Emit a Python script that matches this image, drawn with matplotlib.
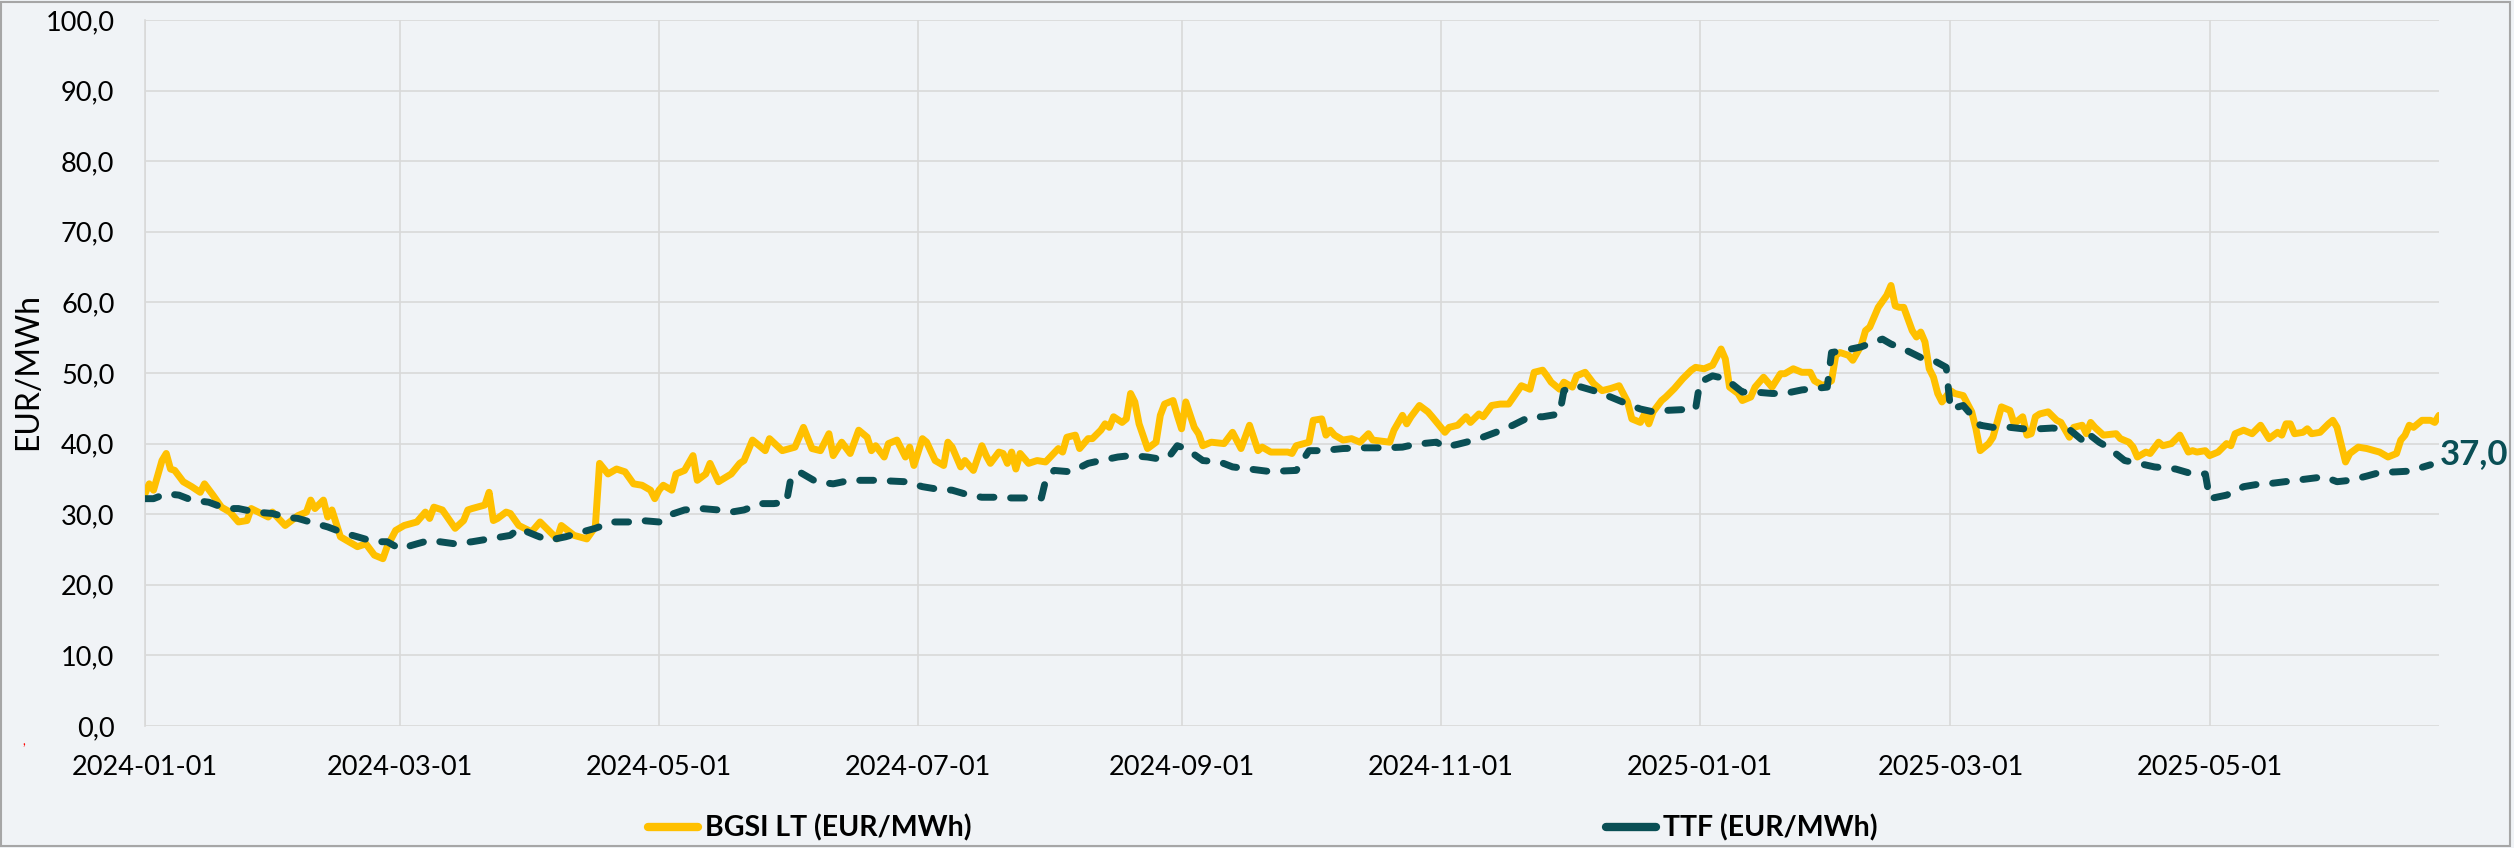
import matplotlib
matplotlib.use("Agg")
import matplotlib.pyplot as plt
from matplotlib.lines import Line2D
from matplotlib.patches import Rectangle
import numpy as np

plt.rcParams['font.family'] = ['Lato', 'DejaVu Sans']

START = np.datetime64('2024-01-01')

# days since 2024-01-01 / price, EUR/MWh
bgsi_day = [0, 1, 2, 4, 5, 6, 7, 9, 11, 13, 14, 16, 18, 20, 22, 24, 25, 29, 30, 33,
            36, 38, 39, 40, 42, 43, 44, 46, 48, 50, 52, 54, 56, 57, 59, 61, 64, 66, 67, 68,
            70, 73, 75, 76, 77, 80, 81, 82, 83, 85, 86, 88, 91, 93, 95, 97, 98, 101, 104, 106,
            107, 109, 111, 113, 115, 117, 119, 120, 121, 122, 124, 125, 127, 129, 130, 132, 133, 135, 138, 140,
            141, 143, 146, 147, 150, 153, 155, 157, 159, 161, 162, 164, 166, 168, 170, 171, 172, 174, 175, 177,
            179, 180, 181, 183, 184, 186, 188, 189, 190, 192, 193, 195, 197, 198, 199, 201, 202, 203, 204, 205,
            206, 208, 210, 212, 215, 216, 217, 219, 220, 222, 223, 225, 226, 227, 228, 230, 231, 232, 233, 234,
            236, 238, 239, 240, 242, 243, 244, 245, 247, 248, 249, 251, 254, 256, 258, 260, 262, 263, 265, 269,
            270, 271, 274, 275, 277, 278, 279, 280, 282, 284, 286, 288, 289, 293, 294, 296, 297, 298, 300, 302,
            303, 306, 307, 309, 311, 312, 314, 315, 317, 319, 321, 324, 326, 327, 329, 330, 331, 333, 334, 336,
            337, 339, 341, 343, 345, 347, 349, 350, 352, 353, 354, 355, 357, 358, 360, 362, 364, 365, 367, 369,
            371, 372, 373, 375, 376, 378, 379, 381, 383, 385, 386, 388, 390, 392, 393, 395, 397, 398, 399, 401,
            402, 404, 405, 406, 408, 410, 411, 412, 413, 414, 416, 417, 418, 419, 420, 421, 422, 423, 425, 426,
            428, 430, 431, 432, 434, 435, 437, 439, 440, 442, 443, 444, 445, 446, 448, 450, 451, 453, 454, 456,
            457, 458, 459, 461, 464, 465, 467, 468, 469, 471, 472, 474, 475, 477, 479, 481, 482, 483, 485, 486,
            488, 490, 491, 492, 494, 496, 498, 500, 502, 503, 504, 505, 506, 508, 509, 510, 512, 514, 515, 516,
            518, 519, 521, 523, 526, 528, 530, 531, 532, 533, 534, 536, 538, 539, 540]
bgsi_val = [32.9, 34.3, 33.4, 37.6, 38.6, 36.4, 36.2, 34.6, 33.9, 33.1, 34.3, 32.7, 31.0, 30.3, 28.9, 29.1, 30.8, 29.6, 30.3, 28.4,
            29.8, 30.3, 32.0, 30.8, 32.0, 29.6, 30.6, 26.8, 26.1, 25.4, 25.8, 24.2, 23.7, 25.4, 27.7, 28.4, 28.9, 30.3, 29.4, 31.0,
            30.6, 28.0, 29.1, 30.6, 30.8, 31.3, 33.1, 29.1, 29.4, 30.3, 30.1, 28.4, 27.5, 28.9, 27.7, 26.5, 28.4, 27.0, 26.5, 28.2,
            37.2, 35.7, 36.4, 36.0, 34.3, 34.1, 33.4, 32.2, 33.4, 34.1, 33.4, 35.7, 36.2, 38.3, 34.8, 35.7, 37.2, 34.6, 35.7, 37.2,
            37.6, 40.5, 39.0, 40.7, 39.0, 39.5, 42.3, 39.3, 39.0, 41.4, 38.3, 40.2, 38.6, 41.9, 40.9, 39.0, 39.7, 38.1, 40.0, 40.5,
            38.1, 39.5, 36.9, 40.7, 40.2, 37.6, 36.9, 40.2, 39.5, 36.7, 37.6, 36.2, 39.7, 38.3, 37.2, 38.8, 38.6, 37.2, 38.8, 36.4,
            38.6, 37.2, 37.6, 37.4, 39.3, 38.8, 40.9, 41.2, 39.3, 40.7, 40.7, 41.9, 42.8, 42.3, 43.8, 43.0, 43.5, 47.1, 45.9, 42.8,
            39.3, 40.2, 44.0, 45.6, 46.1, 44.0, 42.1, 45.9, 42.3, 41.4, 39.7, 40.2, 40.0, 41.6, 39.3, 42.6, 39.0, 39.5, 38.8, 38.8,
            38.6, 39.7, 40.2, 43.3, 43.5, 41.2, 41.9, 41.2, 40.5, 40.7, 40.2, 41.4, 40.5, 40.2, 41.9, 44.0, 42.8, 43.8, 45.4, 44.5,
            43.8, 41.6, 42.3, 42.6, 43.8, 43.0, 44.2, 43.8, 45.4, 45.6, 45.6, 48.2, 47.7, 50.1, 50.4, 49.6, 48.7, 47.7, 48.7, 48.0,
            49.6, 50.1, 48.5, 47.5, 47.8, 48.2, 45.9, 43.5, 43.0, 44.2, 42.8, 44.5, 46.1, 46.6, 47.8, 49.2, 50.4, 50.8, 50.6, 51.1,
            53.4, 52.0, 48.0, 47.1, 46.1, 46.6, 48.0, 49.4, 48.0, 49.9, 49.9, 50.6, 50.1, 50.1, 48.9, 48.2, 48.9, 52.5, 52.9, 52.5,
            51.8, 53.9, 56.0, 56.5, 59.3, 61.0, 62.4, 59.5, 59.3, 59.3, 56.0, 55.1, 55.8, 54.4, 50.6, 49.4, 47.1, 45.9, 47.5, 47.1,
            46.8, 44.5, 42.1, 39.0, 40.0, 40.9, 45.2, 44.7, 42.8, 43.8, 41.2, 41.4, 43.8, 44.2, 44.5, 43.3, 43.0, 40.9, 42.3, 42.6,
            41.4, 43.0, 42.3, 41.2, 41.4, 40.7, 40.2, 39.5, 38.1, 38.8, 38.6, 40.2, 39.7, 40.0, 41.2, 38.8, 39.0, 38.8, 39.0, 38.3,
            38.8, 40.0, 39.7, 41.4, 41.9, 41.4, 42.6, 40.7, 41.6, 41.2, 42.8, 42.8, 41.4, 41.6, 42.1, 41.4, 41.6, 42.8, 43.3, 42.3,
            37.4, 38.6, 39.5, 39.3, 38.8, 38.1, 38.6, 40.5, 41.2, 42.6, 42.3, 43.3, 43.3, 43.0, 44.0]

ttf_day = [0, 2, 5, 8, 11, 15, 19, 22, 26, 30, 33, 36, 40, 43, 47, 50, 54, 57, 60, 64,
           67, 73, 77, 84, 86, 88, 92, 95, 99, 103, 106, 110, 114, 117, 121, 123, 127, 131, 135, 138,
           141, 145, 148, 151, 152, 154, 158, 162, 166, 169, 172, 179, 183, 186, 190, 194, 197, 201, 204, 208,
           211, 212, 214, 218, 222, 225, 229, 232, 236, 238, 241, 243, 245, 249, 253, 256, 260, 264, 267, 271,
           274, 277, 282, 287, 292, 296, 299, 304, 306, 309, 311, 314, 318, 322, 326, 329, 333, 334, 337, 341,
           345, 349, 352, 355, 358, 365, 366, 369, 372, 376, 379, 383, 386, 390, 393, 396, 397, 400, 404, 407,
           409, 411, 414, 418, 421, 424, 425, 428, 432, 435, 439, 442, 446, 449, 453, 456, 457, 460, 462, 466,
           470, 473, 478, 482, 485, 486, 490, 494, 497, 501, 505, 509, 513, 516, 519, 523, 526, 530, 533, 538]
ttf_val = [32.2, 32.2, 32.9, 32.7, 32.0, 31.7, 30.8, 30.8, 30.3, 30.1, 29.6, 29.4, 28.7, 28.2, 27.3, 26.8, 26.1, 26.1, 25.1, 25.8,
           26.3, 25.8, 26.1, 26.8, 27.0, 28.0, 27.0, 26.3, 26.8, 27.5, 28.0, 28.9, 28.9, 29.1, 28.9, 29.8, 30.6, 30.8, 30.6, 30.3,
           30.6, 31.5, 31.5, 31.7, 35.0, 36.0, 34.6, 34.3, 34.8, 34.8, 34.8, 34.6, 33.9, 33.6, 33.4, 32.7, 32.4, 32.4, 32.3, 32.3,
           32.3, 34.8, 36.2, 36.0, 37.2, 37.6, 38.1, 38.3, 38.1, 37.9, 38.1, 39.7, 39.3, 37.6, 37.4, 36.7, 36.4, 36.1, 36.1, 36.2,
           39.0, 39.0, 39.3, 39.4, 39.4, 39.5, 39.9, 40.2, 39.5, 39.9, 40.2, 40.7, 41.6, 42.6, 43.8, 43.8, 44.2, 47.5, 48.2, 47.5,
           46.6, 45.6, 44.9, 44.5, 44.7, 44.9, 48.7, 49.6, 49.2, 47.3, 47.3, 47.1, 47.1, 47.6, 47.8, 48.0, 52.9, 53.2, 53.7, 54.4,
           54.8, 54.1, 53.4, 52.2, 51.8, 50.8, 44.9, 45.4, 42.6, 42.3, 42.3, 42.1, 42.1, 42.2, 42.0, 40.5, 41.6, 40.2, 39.5, 37.6,
           37.1, 36.7, 36.4, 35.7, 35.7, 32.2, 32.7, 33.9, 34.2, 34.4, 34.7, 35.0, 35.3, 34.6, 34.8, 35.4, 35.9, 36.0, 36.1, 37.0]

x_ticks = ['2024-01-01', '2024-03-01', '2024-05-01', '2024-07-01', '2024-09-01',
           '2024-11-01', '2025-01-01', '2025-03-01', '2025-05-01']
y_ticks = [0, 10, 20, 30, 40, 50, 60, 70, 80, 90, 100]

names = ['BGSI LT (EUR/MWh)', 'TTF (EUR/MWh)']
colors = ['#FFC000', '#0A4F55']
BG = '#F0F3F6'
GRID = '#D9D9D9'

bgsi_dates = START + np.array(bgsi_day).astype('timedelta64[D]')
ttf_dates = START + np.array(ttf_day).astype('timedelta64[D]')

fig = plt.figure(figsize=(25.14, 8.48), dpi=100, facecolor=BG)
ax = fig.add_axes([145 / 2514, 1 - 726 / 848, (2439 - 145) / 2514, (726 - 20) / 848])
ax.set_facecolor(BG)

ax.plot(bgsi_dates, bgsi_val, color=colors[0], lw=5, solid_joinstyle='round',
        solid_capstyle='round', zorder=3)
ax.plot(ttf_dates, ttf_val, color=colors[1], lw=5, linestyle=(0, (2.0, 2.4)),
        dash_capstyle='round', dash_joinstyle='round', zorder=4)

ax.annotate(f"{ttf_val[-1]:.1f}".replace('.', ','), xy=(ttf_dates[-1], ttf_val[-1]),
            xytext=(7, 8), textcoords='offset points', ha='left', va='center',
            fontsize=25, fontweight='bold', color=colors[1], annotation_clip=False)

ax.set_ylim(0, 100)
ax.set_yticks(y_ticks)
ax.set_yticklabels([f"{v:.1f}".replace('.', ',') for v in y_ticks])
ax.set_xticks([np.datetime64(t) for t in x_ticks])
ax.set_xticklabels(x_ticks)
ax.set_xlim(bgsi_dates[0], bgsi_dates[-1])

ax.grid(True, color=GRID, lw=1.2)
ax.set_axisbelow(True)
for s in ['top', 'right', 'bottom']:
    ax.spines[s].set_visible(False)
ax.spines['left'].set_color(GRID)
ax.spines['left'].set_linewidth(1.2)
ax.tick_params(axis='both', length=0, labelsize=19.5, colors='black')
ax.tick_params(axis='y', pad=22)
ax.tick_params(axis='x', pad=21)

fig.text(28 / 2514, 1 - 372 / 848, 'EUR/MWh', rotation=90, ha='center', va='center',
         fontsize=23)
fig.text(24 / 2514, 1 - 741 / 848, ',', color='red', fontsize=9, ha='center', va='center')

handles = [Line2D([], [], color=c, lw=6, solid_capstyle='round') for c in colors]
fig.legend(handles, names, loc='center', bbox_to_anchor=(1263 / 2514, 20 / 848), ncol=2,
           frameon=False, prop={'size': 20.5, 'weight': 'bold'}, handlelength=1.75,
           handletextpad=0.25, columnspacing=22.3)

fig.patches.append(Rectangle((1 / 2514, 0.002), 2509 / 2514, 0.996, transform=fig.transFigure,
                             fill=False, edgecolor='#A6A6A6', lw=1.5))

fig.savefig('out.png', dpi=100, facecolor=BG)
